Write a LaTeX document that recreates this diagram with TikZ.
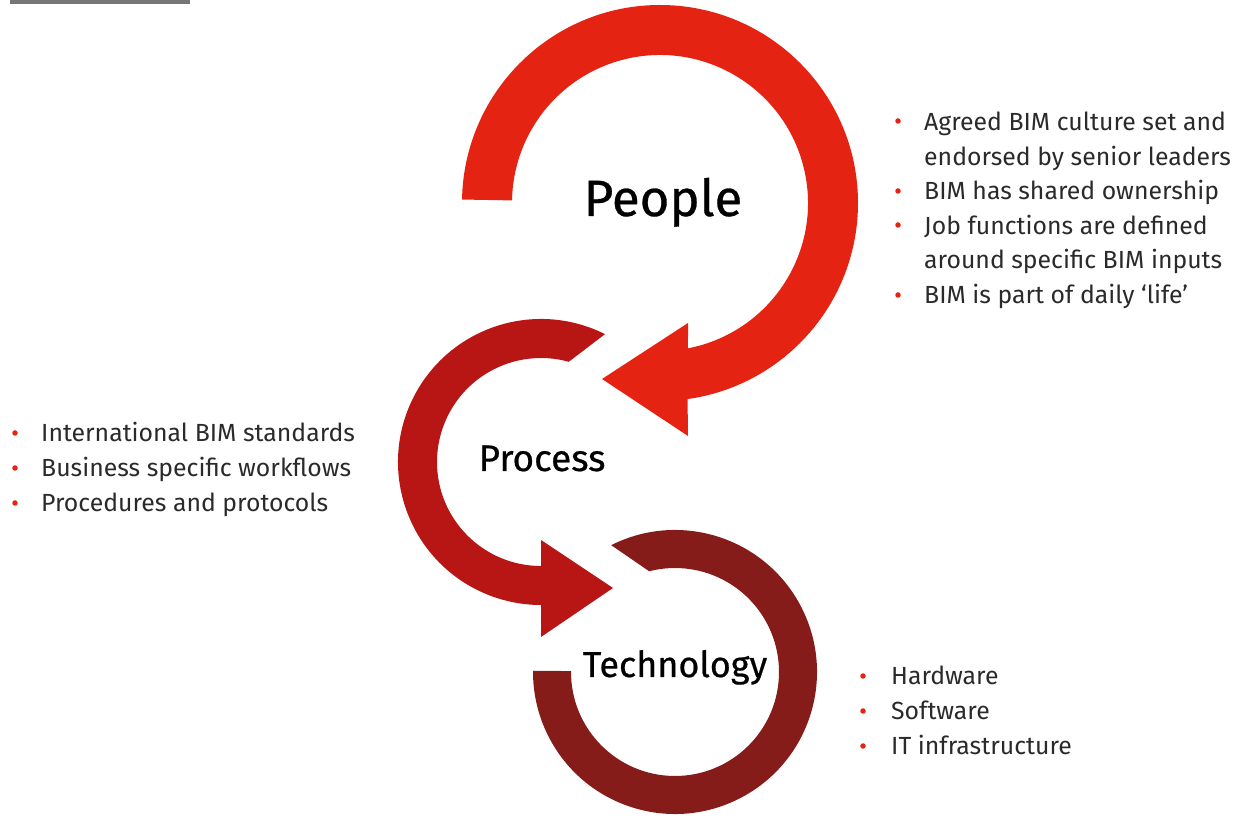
\documentclass[tikz,border=0pt]{standalone}
\usepackage{fontspec}
\setmainfont{Fira Sans}
\newfontfamily\titlefont{Fira Sans}[FakeBold=0.6]
\usetikzlibrary{calc}
\definecolor{peoplered}{HTML}{E42313}
\definecolor{processred}{HTML}{B71615}
\definecolor{techred}{HTML}{861C1A}
\definecolor{bodytext}{HTML}{2A2A2A}
\definecolor{rulegray}{HTML}{777777}
\tikzset{
  title/.style={anchor=base, inner sep=0pt, text=black},
  item/.style={anchor=base west, inner sep=0pt, text=bodytext, font=\fontsize{24.8}{28}\selectfont},
  dot/.style={fill=peoplered, draw=none, circle, minimum size=5.5pt, inner sep=0pt},
}
\begin{document}
\begin{tikzpicture}[x=1pt,y=1pt]
\useasboundingbox (0,0) rectangle (1237,816);
% top rule
\draw[rulegray, line width=4pt] (10,814) -- (190,814);
% People arrow
\coordinate (pc) at (660,613);
\fill[peoplered] ($(pc)+(179:198)$) arc[start angle=179, end angle=-82, radius=198]
  -- (688,380) -- (602,437) -- (688,493) -- ($(pc)+(-79.1:148)$)
  arc[start angle=-79.1, end angle=179, radius=148] -- cycle;
% Process arrow
\coordinate (rc) at (541,354);
\fill[processred] ($(rc)+(63.4:143)$) arc[start angle=63.4, end angle=270, radius=143]
  -- (541,179) -- (613,228) -- (541,276) -- ($(rc)+(270:104)$)
  arc[start angle=270, end angle=74.5, radius=104] -- cycle;
% Technology arrow
\coordinate (tc) at (675,144);
\fill[techred] ($(tc)+(116.7:142)$) arc[start angle=116.7, end angle=-180.5, radius=142]
  -- ($(tc)+(-180.5:104)$) arc[start angle=-180.5, end angle=104.4, radius=104] -- cycle;
% titles
\node[title, font=\titlefont\fontsize{51}{60}\selectfont] (people) at (663,600) {People};
\node[title, font=\titlefont\fontsize{37}{44}\selectfont] (process) at (542,345) {Process};
\node[title, font=\titlefont\fontsize{36}{44}\selectfont] (technology) at (675,139) {Technology};
% right list
\foreach \y/\t [count=\i] in {131/{Agreed BIM culture set and},165.5/{endorsed by senior leaders},200/{BIM has shared ownership},234.5/{Job functions are defined},269/{around specific BIM inputs},303.5/{BIM is part of daily ‘life’}}{
  \node[item] (r\i) at (924,816-\y) {\t};
}
\node[dot] (rd1) at (898,695) {};
\node[dot] (rd2) at (898,625) {};
\node[dot] (rd3) at (898,591) {};
\node[dot] (rd4) at (898,521) {};
% left list
\node[item] (l1) at (41,816-442) {International BIM standards};
\node[item] (l2) at (41,816-477) {Business specific workflows};
\node[item] (l3) at (41,816-512) {Procedures and protocols};
\node[dot] (ld1) at (15,816-433) {};
\node[dot] (ld2) at (15,816-468) {};
\node[dot] (ld3) at (15,816-503) {};
% bottom list
\node[item] (b1) at (891,816-685) {Hardware};
\node[item] (b2) at (891,816-720) {Software};
\node[item] (b3) at (891,816-755) {IT infrastructure};
\node[dot] (bd1) at (863,816-676) {};
\node[dot] (bd2) at (863,816-711) {};
\node[dot] (bd3) at (863,816-746) {};
\end{tikzpicture}
\end{document}
